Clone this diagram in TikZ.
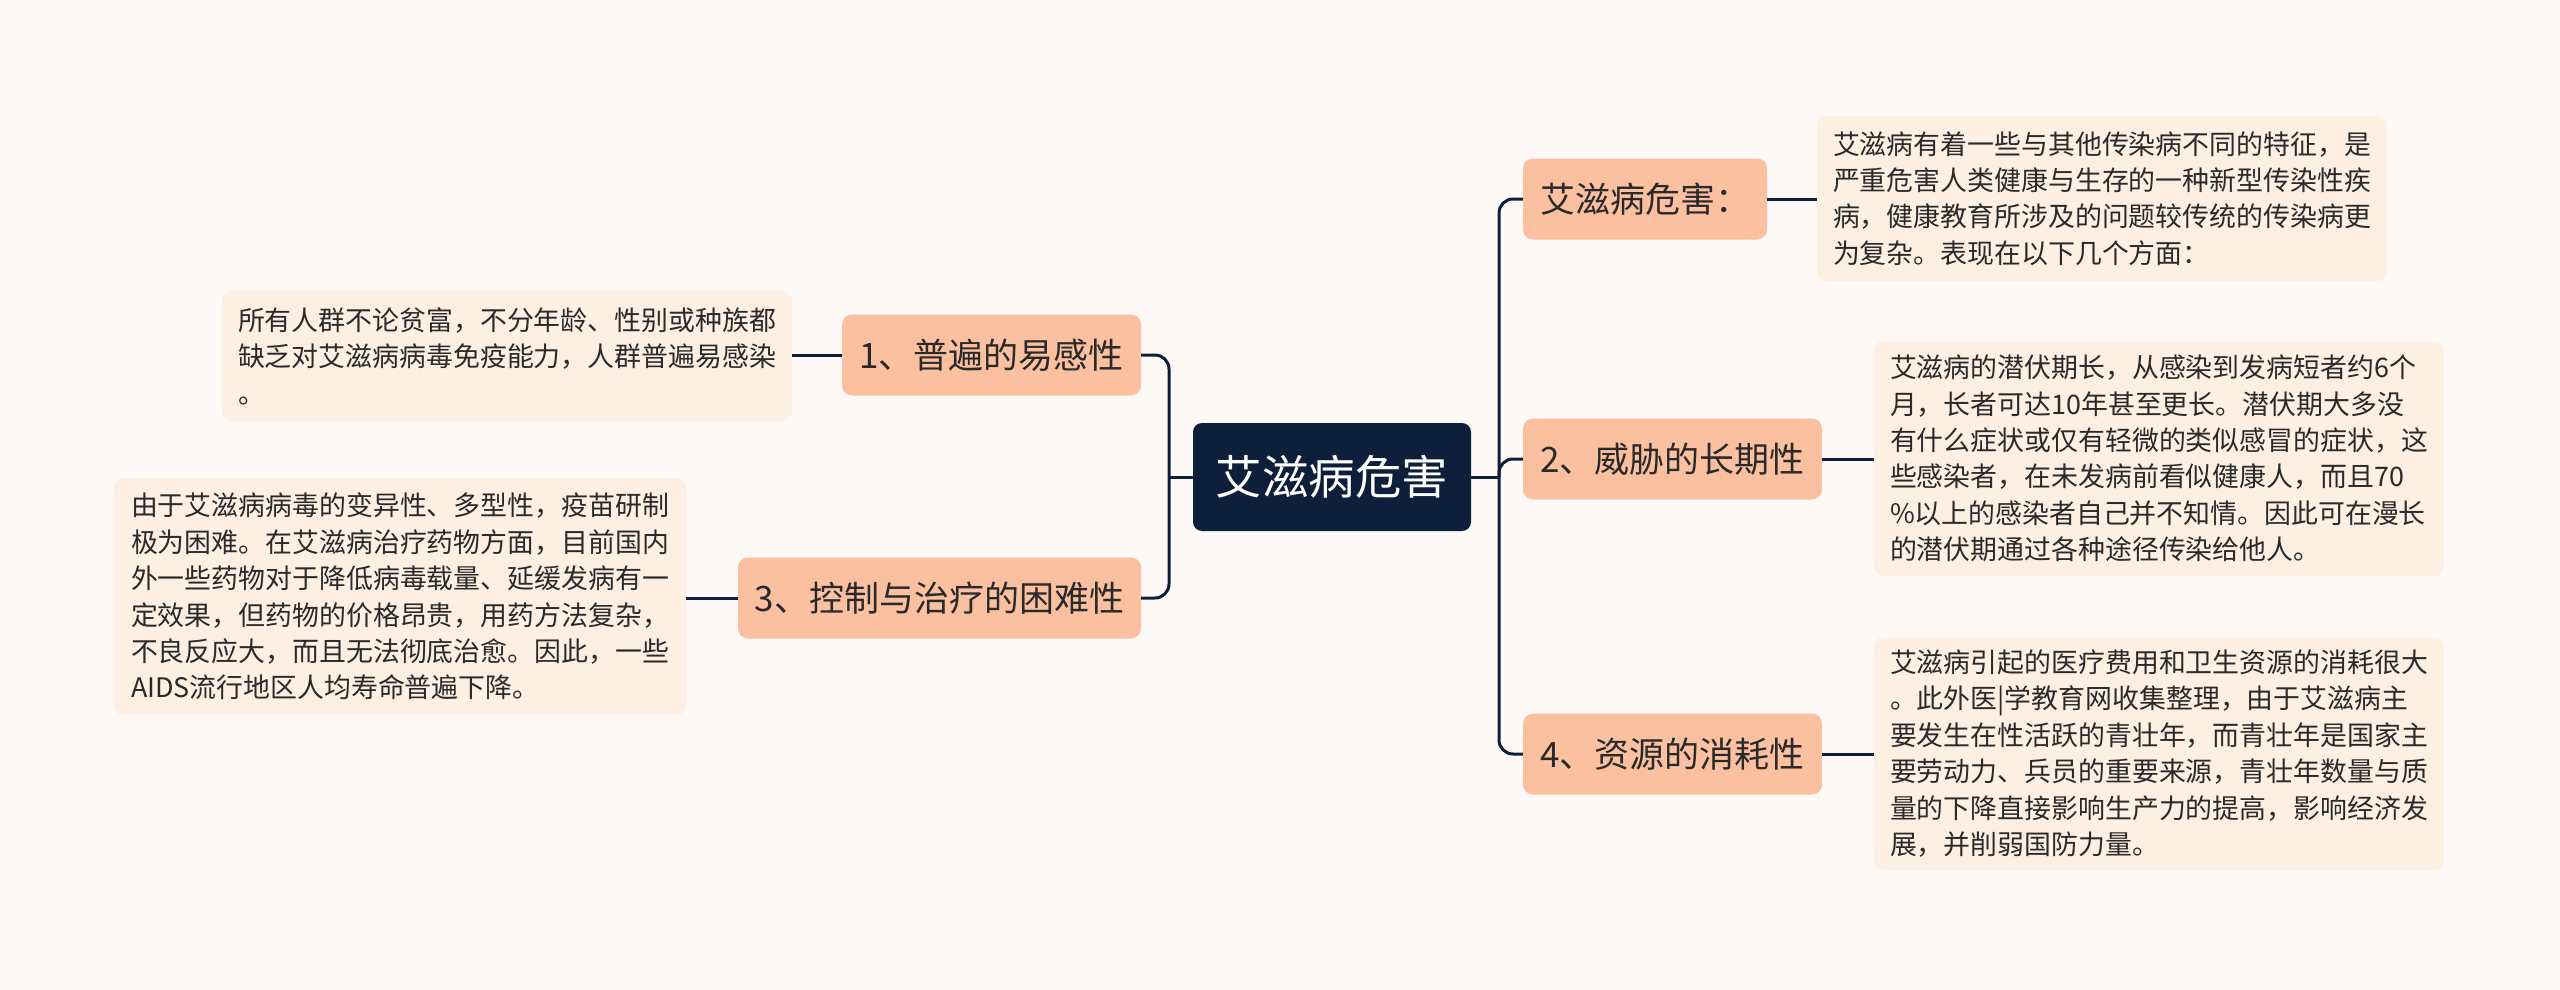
\documentclass[tikz,border=0pt]{standalone}
\usepackage{fontspec}
\newfontfamily\cjk{Noto Sans CJK SC}
\definecolor{bgc}{HTML}{FDF9F7}
\definecolor{navy}{HTML}{0E1F3B}
\definecolor{peach}{HTML}{FBC0A0}
\definecolor{cream}{HTML}{FDEFE1}
\definecolor{ink}{HTML}{2A2A2A}
\tikzset{
  root/.style={fill=navy, text=white, rounded corners=9pt, inner sep=0pt,
    font=\cjk\fontsize{46.5}{55}\selectfont},
  branch/.style={fill=peach, text=ink, rounded corners=10pt, inner sep=0pt,
    minimum height=81pt, font=\cjk\fontsize{35}{41}\selectfont},
  leaf/.style={fill=cream, text=ink, rounded corners=10pt, inner sep=0pt,
    align=left, font=\cjk\fontsize{26.9}{36.4}\selectfont},
  link/.style={draw=navy, line width=3pt, rounded corners=14pt},
}
\begin{document}
\begin{tikzpicture}[x=1pt,y=-1pt]
\fill[bgc] (0,0) rectangle (2560,990);
\useasboundingbox (0,0) rectangle (2560,990);

\node[root, minimum width=278pt, minimum height=108pt] (C) at (1332,477) {艾滋病危害};

\node[branch, minimum width=244pt] (R0) at (1645,199) {艾滋病危害：};
\node[branch, minimum width=299pt] (R2) at (1672.5,459) {2、威胁的长期性};
\node[branch, minimum width=299pt] (R4) at (1672.5,754) {4、资源的消耗性};
\node[branch, minimum width=299pt] (L1) at (991.5,355) {1、普遍的易感性};
\node[branch, minimum width=403pt] (L3) at (939.5,598) {3、控制与治疗的困难性};

\node[leaf, minimum width=570pt, minimum height=165pt] (T0) at (2102,198.5) {艾滋病有着一些与其他传染病不同的特征，是\\严重危害人类健康与生存的一种新型传染性疾\\病，健康教育所涉及的问题较传统的传染病更\\为复杂。表现在以下几个方面：};
\node[leaf, minimum width=570pt, minimum height=235pt] (T2) at (2159,458.5) {艾滋病的潜伏期长，从感染到发病短者约6个\\月，长者可达10年甚至更长。潜伏期大多没\\有什么症状或仅有轻微的类似感冒的症状，这\\些感染者，在未发病前看似健康人，而且70\\\%以上的感染者自己并不知情。因此可在漫长\\的潜伏期通过各种途径传染给他人。};
\node[leaf, minimum width=570pt, minimum height=233pt] (T4) at (2159,753.5) {艾滋病引起的医疗费用和卫生资源的消耗很大\\。此外医|学教育网收集整理，由于艾滋病主\\要发生在性活跃的青壮年，而青壮年是国家主\\要劳动力、兵员的重要来源，青壮年数量与质\\量的下降直接影响生产力的提高，影响经济发\\展，并削弱国防力量。};
\node[leaf, minimum width=570pt, minimum height=130pt] (TL1) at (507,356) {所有人群不论贫富，不分年龄、性别或种族都\\缺乏对艾滋病病毒免疫能力，人群普遍易感染\\。};
\node[leaf, minimum width=572pt, minimum height=237pt] (TL3) at (400,596.5) {由于艾滋病病毒的变异性、多型性，疫苗研制\\极为困难。在艾滋病治疗药物方面，目前国内\\外一些药物对于降低病毒载量、延缓发病有一\\定效果，但药物的价格昂贵，用药方法复杂，\\不良反应大，而且无法彻底治愈。因此，一些\\AIDS流行地区人均寿命普遍下降。};

\coordinate (JR) at (1499,477);
\coordinate (JL) at (1169,477);

\draw[link] (C.east) -- (JR);
\draw[link] (JR) |- (R0.west);
\draw[link] (JR) |- (R2.west);
\draw[link] (JR) |- (R4.west);
\draw[link] (C.west) -- (JL);
\draw[link] (JL) |- (L1.east);
\draw[link] (JL) |- (L3.east);

\draw[link] (R0.east) -- (R0.east -| T0.west);
\draw[link] (R2.east) -- (R2.east -| T2.west);
\draw[link] (R4.east) -- (R4.east -| T4.west);
\draw[link] (L1.west) -- (L1.west -| TL1.east);
\draw[link] (L3.west) -- (L3.west -| TL3.east);
\end{tikzpicture}
\end{document}
